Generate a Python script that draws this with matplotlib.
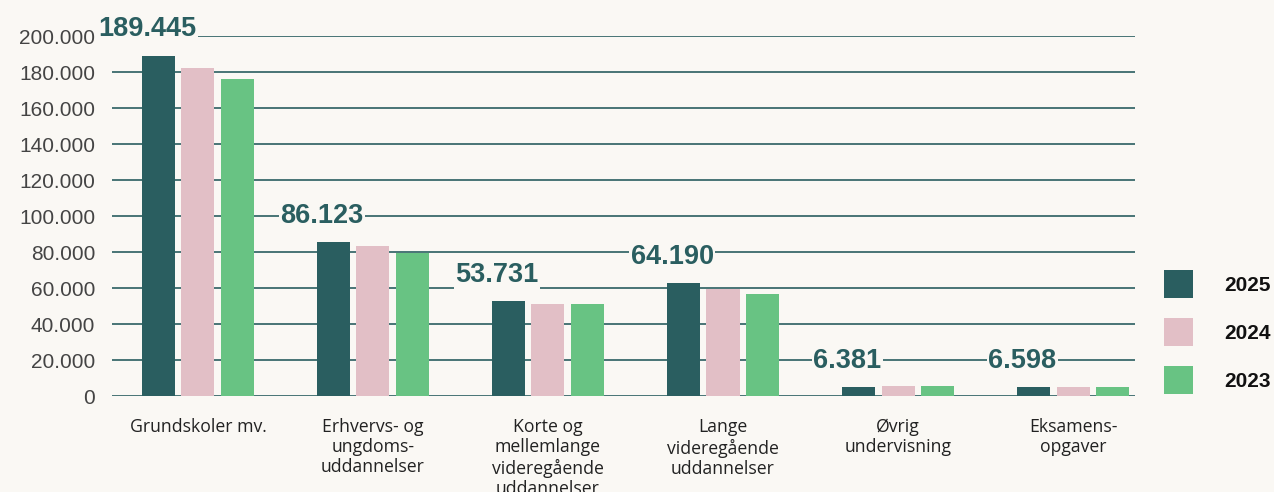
import matplotlib
matplotlib.use("Agg")
import matplotlib.pyplot as plt
from matplotlib.ticker import FuncFormatter, MultipleLocator
from matplotlib.patches import Patch
import numpy as np

categories = ["Grundskoler mv.", "Erhvervs- og\nungdoms-\nuddannelser",
              "Korte og\nmellemlange\nvideregående\nuddannelser",
              "Lange\nvideregående\nuddannelser", "Øvrig\nundervisning",
              "Eksamens-\nopgaver"]
series_names = ["2025", "2024", "2023"]
v2025 = [189000, 85300, 52800, 62600, 5000, 5000]
v2024 = [182300, 83100, 51000, 59400, 5500, 5000]
v2023 = [176200, 79400, 51000, 56500, 5500, 5000]
labels_2025 = ["189.445", "86.123", "53.731", "64.190", "6.381", "6.598"]

BG = "#faf8f4"
colors = ["#2a5e60", "#e2bfc6", "#68c383"]
GRID = "#2a5e60"

W, H = 1274, 492
fig = plt.figure(figsize=(W / 100, H / 100), dpi=100, facecolor=BG)
ax = fig.add_axes([112 / W, 1 - 396 / H, (1135 - 112) / W, (396 - 36) / H])
ax.set_facecolor(BG)

x = np.arange(len(categories))
pitch = 39.3 / 175
width = 33 / 175
for k, (vals, c, name) in enumerate(zip([v2025, v2024, v2023], colors, series_names)):
    ax.bar(x + (k - 1) * pitch, vals, width=width, color=c, label=name, zorder=2)

for i, (val, lab) in enumerate(zip(v2025, labels_2025)):
    ax.annotate(lab, xy=(x[i] - 0.29, val), xytext=(0, 19), textcoords="offset points",
                ha="center", va="center", fontsize=19.5, fontweight="bold",
                color="#2a5e60", family="Liberation Sans", zorder=5,
                annotation_clip=False,
                bbox=dict(boxstyle="square,pad=0.06", fc=BG, ec="none"))

ax.set_xlim(-0.491, 5.354)
ax.set_ylim(0, 200000)
ax.yaxis.set_major_locator(MultipleLocator(20000))
ax.yaxis.set_major_formatter(FuncFormatter(lambda v, p: f"{int(v):,}".replace(",", ".")))
ax.grid(axis="y", color=GRID, linewidth=1.2, zorder=1)
ax.set_axisbelow(True)
for s in ax.spines.values():
    s.set_visible(False)

ax.set_xticks(x)
ax.set_xticklabels(categories, fontsize=12.7, family="Open Sans", color="#222222",
                   linespacing=1.15, va="top")
ax.tick_params(axis="x", length=0, pad=16)
ax.tick_params(axis="y", length=0, pad=12, labelsize=15, labelcolor="#444444")
for t in ax.get_yticklabels():
    t.set_family("Liberation Sans")

handles = [Patch(facecolor=c, edgecolor="none") for c in colors]
leg = fig.legend(handles, series_names, loc="upper left",
                 bbox_to_anchor=(1164 / W, 1 - 270 / H), bbox_transform=fig.transFigure,
                 frameon=False, borderpad=0, borderaxespad=0,
                 handlelength=1.4, handleheight=1.7, handletextpad=1.5,
                 labelspacing=0.95, prop={"family": "Liberation Sans", "weight": "bold", "size": 15})
for t in leg.get_texts():
    t.set_color("#111111")

fig.savefig("out.png", dpi=100, facecolor=BG)
